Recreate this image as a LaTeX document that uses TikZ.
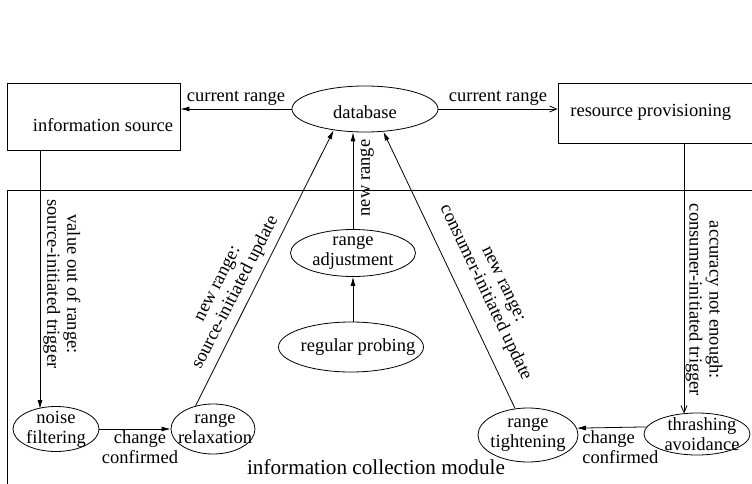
\documentclass[tikz,border=0pt]{standalone}
\usepackage{fontspec}
\setmainfont{Liberation Serif}
\usetikzlibrary{shapes.geometric,arrows.meta}
\begin{document}
\begin{tikzpicture}[x=1pt,y=-1pt,
  font=\fontsize{18.5}{20}\selectfont,
  line width=0.8pt,
  ell/.style n args={2}{draw, ellipse, inner sep=0pt, minimum width=#1, minimum height=#2},
  box/.style={draw, rectangle, inner sep=0pt},
  lbl/.style={align=center, inner sep=0pt},
  fa/.style={-{Latex[length=9pt,width=5pt]}},
  oa/.style={-{Straight Barb[length=7pt,width=6pt]}}]
\useasboundingbox (0,0) rectangle (752,484);
\clip (0,0) rectangle (752,484);

% boxes
\node[box, minimum width=173pt, minimum height=67pt] (isrc) at (93.5,116.5) {};
\node[lbl] (isrct) at (103,125) {information source};
\node[box, minimum width=202pt, minimum height=60pt] (rp) at (659,113) {};
\node[lbl, anchor=west] (rpt) at (570,112) {resource provisioning};
\node[box, minimum width=763pt, minimum height=310pt] (mod) at (388.5,345) {};
\node[lbl, font=\fontsize{21.2}{23}\selectfont] (modt) at (376,467) {information collection module};

% ellipses
\node[ell={146pt}{46pt}, label={[lbl,yshift=-3pt]center:database}] (db) at (365,109) {};
\node[ell={125pt}{47pt}, label={[lbl]center:range\\adjustment}] (radj) at (353,253) {};
\node[ell={145pt}{50pt}, label={[lbl,xshift=7pt]center:regular probing}] (prob) at (351,347) {};
\node[ell={86pt}{45pt}, label={[lbl]center:noise\\filtering}] (nf) at (56,429) {};
\node[ell={84pt}{50pt}, label={[lbl,xshift=2pt]center:range\\relaxation}] (rr) at (213,429) {};
\node[ell={100pt}{54pt}, label={[lbl]center:range\\tightening}] (rt) at (528,435) {};
\node[ell={106pt}{42pt}, label={[lbl,xshift=5pt]center:thrashing\\avoidance}] (ta) at (697,434) {};

% top connectors
\draw[fa] (db.west) -- (db.west -| isrc.east)
  node[midway, above=3pt, inner sep=0pt] (l1) {current range};
\draw[oa] (db.east) -- (db.east -| rp.west)
  node[midway, above=3pt, inner sep=0pt] (l2) {current range};

% vertical triggers
\coordinate (e1) at (40,409);
\draw[fa] (isrc.south -| e1) -- (e1);
\node[lbl, rotate=-90] (l3) at (62,284) {value out of range:\\source-initiated trigger};
\coordinate (e2) at (684,413.5);
\draw[oa] (rp.south -| e2) -- (e2);
\node[lbl, rotate=-90] (l4) at (704,300) {accuracy not enough:\\consumer-initiated trigger};

% center
\draw[fa] (prob.north -| radj.south) -- (radj.south);
\draw[fa] (radj.north) -- (radj.north |- db.south);
\node[lbl, rotate=90] (l5) at (367,178) {new range};

% diagonal updates
\draw[fa] (rr.127) -- (db.214);
\node[lbl, rotate=62.8] (l6) at (228,289) {new range:\\source-initiated update};
\draw[fa] (rt.116) -- (db.309);
\node[lbl, rotate=-64.5] (l7) at (493,289) {new range:\\consumer-initiated update};

% bottom
\draw[fa] (nf.east) -- (rr.west);
\node[lbl] (l8) at (140,447) {change\\confirmed};
\draw[fa] (ta.172) -- (rt.8);
\node[lbl, align=left, anchor=west] (l9) at (582,447) {change\\confirmed};
\end{tikzpicture}
\end{document}
